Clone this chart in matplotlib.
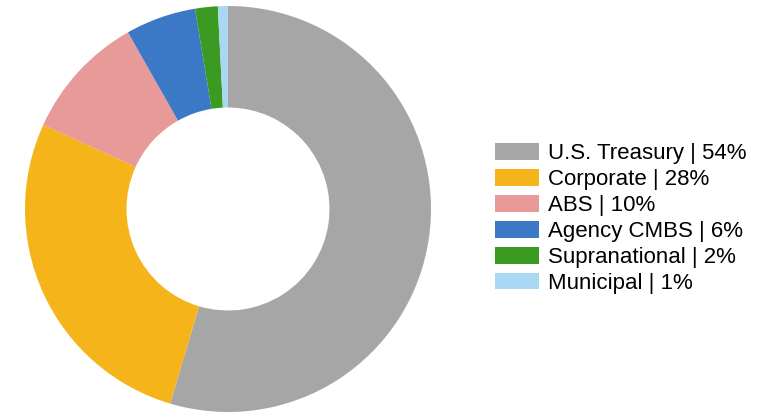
import matplotlib.pyplot as plt

labels = ["U.S. Treasury", "Corporate", "ABS", "Agency CMBS", "Supranational", "Municipal"]
# shares as measured from the ring; legend shows the rounded numbers
shares = [54.6, 27.2, 10.0, 5.6, 1.8, 0.8]
pct_labels = [54, 28, 10, 6, 2, 1]
colors = ["#A6A6A6", "#F4B41A", "#E89A98", "#3B78C6", "#3A9A22", "#AAD8F2"]

plt.rcParams['font.family'] = ['Liberation Sans', 'DejaVu Sans']

W, H = 759, 418
fig = plt.figure(figsize=(W / 100, H / 100), dpi=100)

cx, cy, r = 228, 209, 203
ax = fig.add_axes([(cx - r) / W, (cy - r) / H, 2 * r / W, 2 * r / H])
wedges, _ = ax.pie(shares, colors=colors, startangle=90, counterclock=False,
                   wedgeprops=dict(width=0.5, linewidth=0))
ax.set_xlim(-1, 1)
ax.set_ylim(-1, 1)
ax.set_aspect('equal')

leg_labels = [f"{l} | {v}%" for l, v in zip(labels, pct_labels)]
fig.legend(wedges, leg_labels, loc='upper left', bbox_to_anchor=(486 / W, 1 - 134 / H),
           frameon=False, fontsize=16, handlelength=2.0, handleheight=0.78,
           handletextpad=0.4, labelspacing=0.22, borderaxespad=0)

fig.savefig("out.png", dpi=100)
